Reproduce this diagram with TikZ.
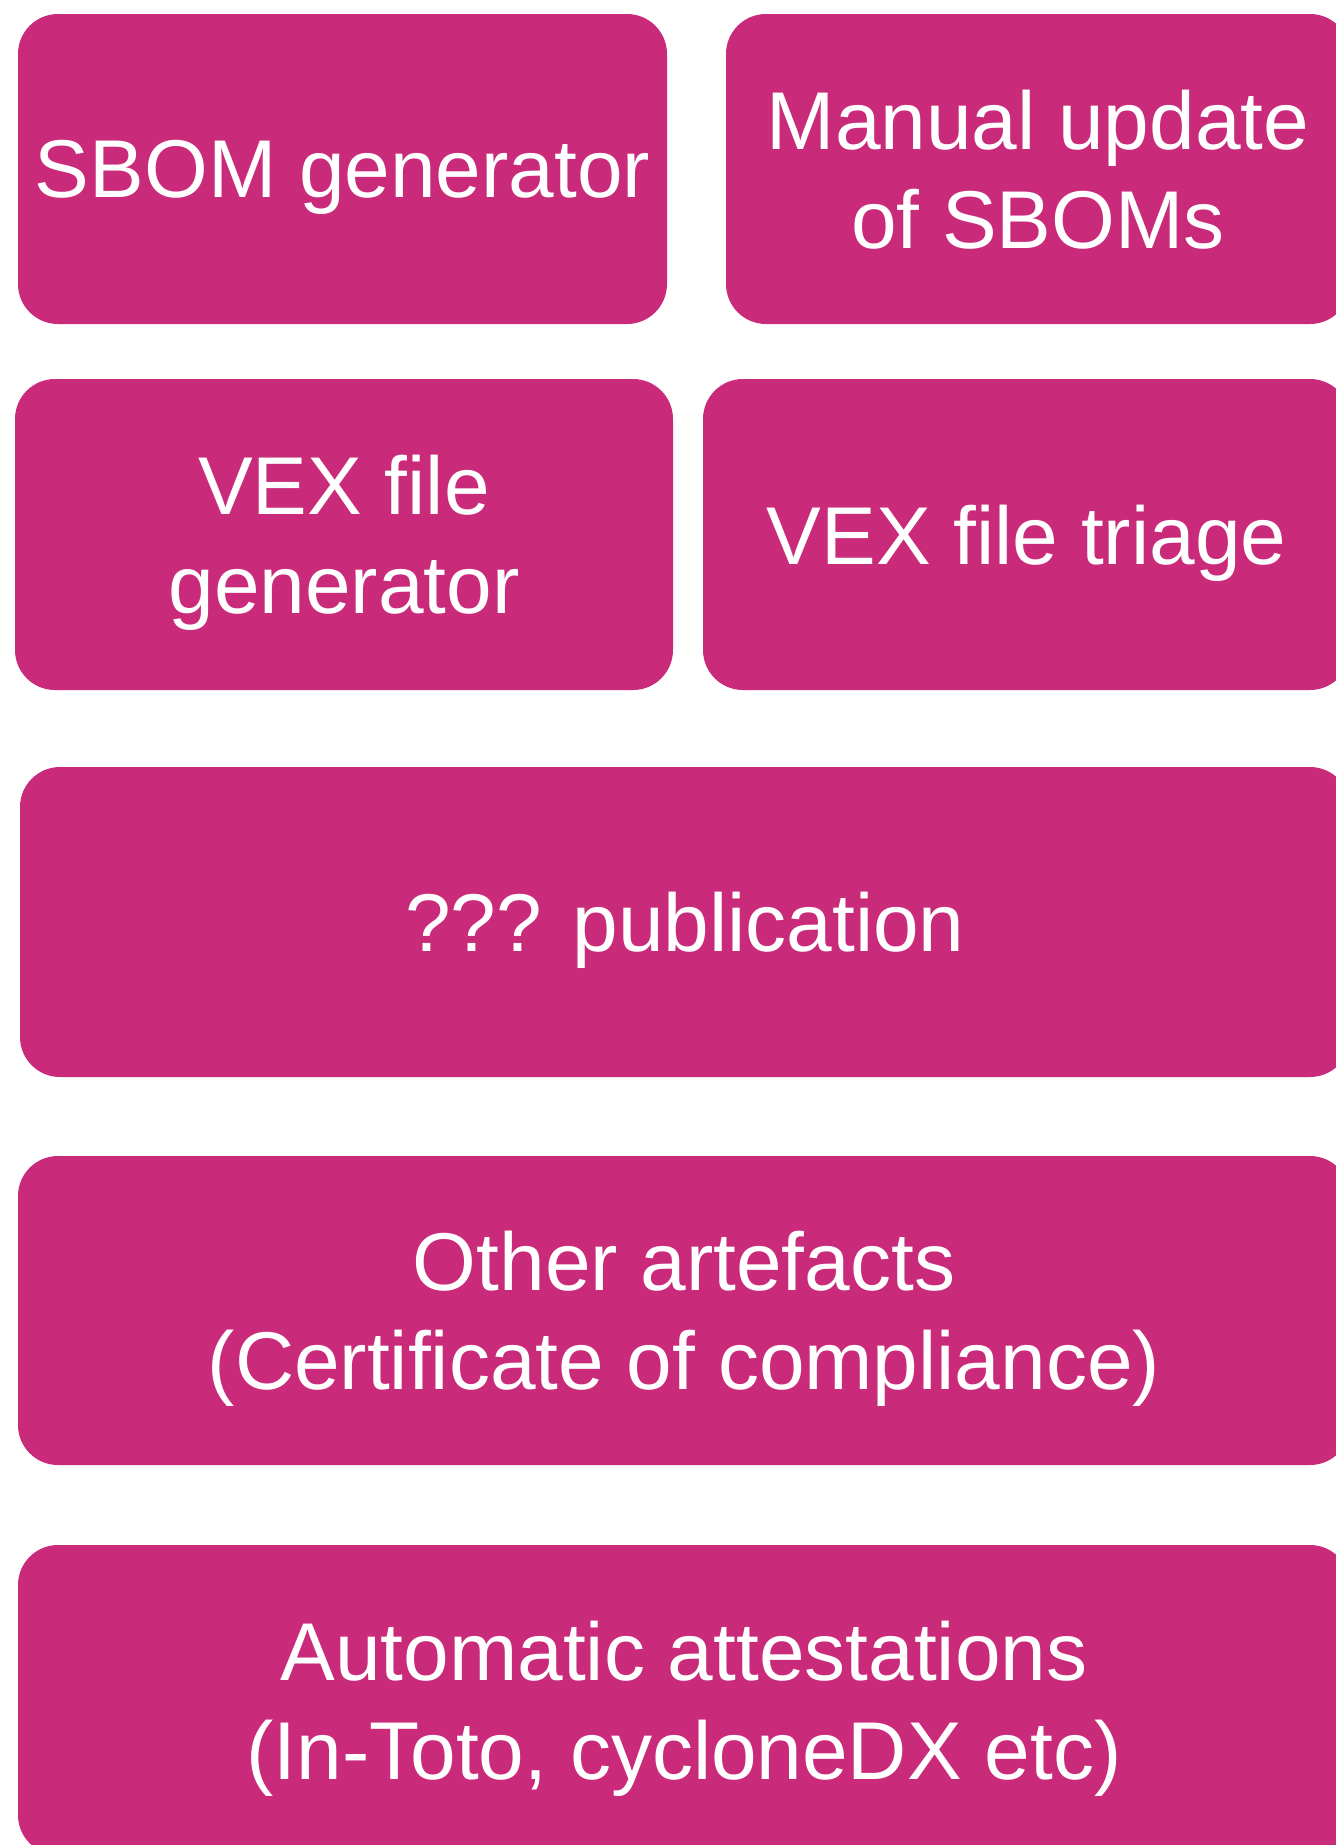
\documentclass[tikz,border=0pt]{standalone}
\usepackage{fontspec}
\setmainfont{Liberation Sans}
\definecolor{tilemagenta}{RGB}{202,42,122}
\tikzset{
  tile/.style={
    fill=tilemagenta, draw=none, rounded corners=40pt,
    text=white, align=center, inner sep=0pt, text depth=0pt,
    font=\fontsize{82}{99}\selectfont
  }
}
\begin{document}
\begin{tikzpicture}[x=1pt,y=-1pt]
  \useasboundingbox (0,0) rectangle (1336,1845);
  % top row
  \node[tile, minimum width=649pt, minimum height=310pt] (sbomgen) at (342.5,169) {SBOM generator};
  \node[tile, minimum width=624pt, minimum height=310pt] (sbomman) at (1038,169) {Manual update\\of SBOMs};
  % second row
  \node[tile, minimum width=658pt, minimum height=311pt] (vexgen) at (344,534.5) {VEX file\\generator};
  \node[tile, minimum width=647pt, minimum height=311pt] (vextriage) at (1026.5,534.5) {VEX file triage};
  % full-width rows
  \node[tile, minimum width=1330pt, minimum height=310pt] (publish) at (685,922) {??? publication};
  \node[tile, minimum width=1332pt, minimum height=309pt] (artefacts) at (684,1310.5) {Other artefacts\\(Certificate of compliance)};
  \node[tile, minimum width=1332pt, minimum height=310pt] (attest) at (684,1700) {Automatic attestations\\(In-Toto, cycloneDX etc)};
\end{tikzpicture}
\end{document}
